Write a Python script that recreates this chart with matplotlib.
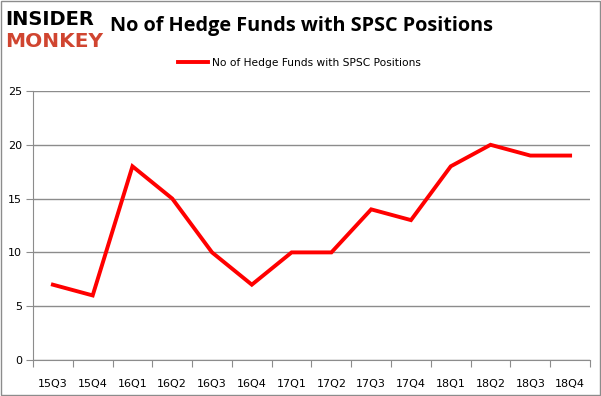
import matplotlib.pyplot as plt
import numpy as np

quarters = ["15Q3", "15Q4", "16Q1", "16Q2", "16Q3", "16Q4", "17Q1",
            "17Q2", "17Q3", "17Q4", "18Q1", "18Q2", "18Q3", "18Q4"]
hedge_funds = [7, 6, 18, 15, 10, 7, 10, 10, 14, 13, 18, 20, 19, 19]
y_ticks = [0, 5, 10, 15, 20, 25]

line_color = "#ff0000"
grid_color = "#8c8c8c"

fig = plt.figure(figsize=(6.01, 3.96), dpi=100)
ax = fig.add_axes([33 / 601, 36 / 396, 557 / 601, 269 / 396])

x = np.arange(len(quarters))
ax.plot(x, hedge_funds, color=line_color, linewidth=2.8, solid_joinstyle="miter",
        label="No of Hedge Funds with SPSC Positions")

ax.set_xlim(-0.5, len(quarters) - 0.5)
ax.set_ylim(0, 25)
ax.set_yticks(y_ticks)
ax.yaxis.grid(True, color=grid_color, linewidth=1)
ax.set_axisbelow(True)

# category labels between boundary ticks
ax.set_xticks(np.arange(len(quarters) + 1) - 0.5)
ax.set_xticklabels([])
ax.set_xticks(x, minor=True)
ax.set_xticklabels(quarters, minor=True, fontsize=8)
ax.tick_params(axis="x", which="minor", length=0, pad=14)
ax.tick_params(axis="x", which="major", length=5, color=grid_color, direction="out")
ax.tick_params(axis="y", length=5, color=grid_color, labelsize=8, pad=3)

for side in ["top", "right"]:
    ax.spines[side].set_visible(False)
ax.spines["left"].set_color(grid_color)
ax.spines["bottom"].set_color(grid_color)

# legend and title
ax.legend(loc="lower center", bbox_to_anchor=(0.478, 1.05), frameon=False,
          fontsize=7.7, handlelength=2.8, handletextpad=0.35)
fig.text(0.502, 0.934, "No of Hedge Funds with SPSC Positions", ha="center", va="center",
         fontsize=14.3, fontweight="bold", family="Open Sans")

# logo
fig.text(0.008, 0.95, "INSIDER", fontsize=14, fontweight="bold", color="black",
         va="center", ha="left", family="DejaVu Sans")
fig.text(0.008, 0.895, "MONKEY", fontsize=14.5, fontweight="bold", color="#d04530",
         va="center", ha="left", family="DejaVu Sans")

# figure frame
fig.patches.append(plt.Rectangle((0.0015, 0.0025), 0.997, 0.995, transform=fig.transFigure,
                                 fill=False, edgecolor=grid_color, linewidth=1))

fig.savefig("out.png", dpi=100)
